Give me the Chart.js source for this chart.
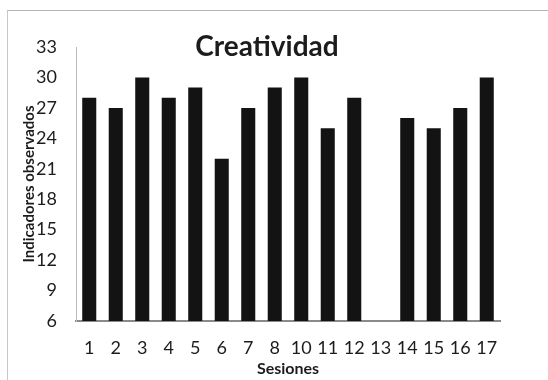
<!DOCTYPE html>
<html>
<head>
<meta charset="utf-8">
<script src="https://cdn.jsdelivr.net/npm/chart.js@4/dist/chart.umd.min.js"></script>
<style>
  html, body { margin: 0; padding: 0; background: #fff; }
  #wrap { position: relative; width: 548px; height: 380px; overflow: hidden; }
  #frame { position: absolute; left: 7px; top: 10px; width: 600px; height: 400px;
           border-top: 1px solid #b5b5b5; border-left: 1px solid #c8c8c8; }
  canvas { position: absolute; left: 0; top: 0; }
</style>
</head>
<body>
<div id="wrap">
  <div id="frame"></div>
  <canvas id="main-chart" width="548" height="380"></canvas>
</div>
<script>
  // ── Data ─────────────────────────────────────────────────────
  const SESSIONS = ['1', '2', '3', '4', '5', '6', '7', '8', '10', '11', '12', '13', '14', '15', '16', '17'];
  const INDICATORS = [28, 27, 30, 28, 29, 22, 27, 29, 30, 25, 28, null, 26, 25, 27, 30];
  const Y_MIN = 6, Y_MAX = 33, Y_STEP = 3;

  const TITLE = 'Creatividad';
  const X_TITLE = 'Sesiones';
  const Y_TITLE = 'Indicadores observados';

  const FONT = "Lato, 'Open Sans', sans-serif";
  const INK = '#1c1c1c';

  // title sits inside the plot area, like the original
  const innerTitle = {
    id: 'innerTitle',
    afterDraw(chart) {
      const { ctx, chartArea } = chart;
      ctx.save();
      ctx.font = `bold 28px ${FONT}`;
      ctx.fillStyle = INK;
      ctx.textAlign = 'center';
      ctx.textBaseline = 'middle';
      ctx.fillText(TITLE, (chartArea.left + chartArea.right) / 2 - 21, chartArea.top);
      ctx.restore();
    }
  };

  new Chart(document.getElementById('main-chart').getContext('2d'), {
    type: 'bar',
    data: {
      labels: SESSIONS,
      datasets: [{
        label: Y_TITLE,
        data: INDICATORS,
        backgroundColor: '#131313',
        borderWidth: 0,
        barPercentage: 0.53,
        categoryPercentage: 1,
      }]
    },
    options: {
      responsive: false,
      animation: false,
      layout: { padding: { top: 47, left: 20, right: 48, bottom: 2 } },
      plugins: {
        legend: { display: false },
        tooltip: { enabled: false },
      },
      scales: {
        x: {
          offset: true,
          grid: { display: false, drawTicks: false },
          border: { display: true, color: '#8a8a8a', width: 2 },
          ticks: { color: INK, font: { size: 18, family: FONT }, padding: 16, maxRotation: 0, autoSkip: false },
          title: { display: true, text: X_TITLE, color: INK, font: { size: 16, weight: 'bold', family: FONT }, padding: { top: 0, bottom: 0 } },
          afterFit: s => { s.height = 57; }
        },
        y: {
          min: Y_MIN, max: Y_MAX,
          grid: { display: false, drawTicks: false },
          border: { display: true, color: '#bdbdbd', width: 1 },
          ticks: { stepSize: Y_STEP, color: INK, font: { size: 18, family: FONT }, padding: 19 },
          title: { display: true, text: Y_TITLE, color: INK, font: { size: 15, weight: 'bold', family: FONT }, padding: { top: 0, bottom: 0 } },
          afterFit: s => { s.width = 56; }
        }
      }
    },
    plugins: [innerTitle]
  });
</script>
</body>
</html>
